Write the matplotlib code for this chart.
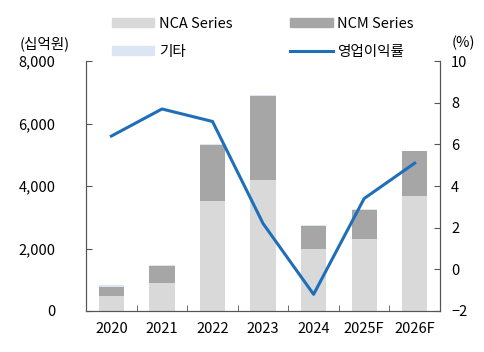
import numpy as np
import matplotlib
matplotlib.use("Agg")
import matplotlib.pyplot as plt
from matplotlib.patches import Patch
from matplotlib.lines import Line2D

plt.rcParams['font.family'] = ['Noto Sans CJK KR', 'DejaVu Sans']

years = ["2020", "2021", "2022", "2023", "2024", "2025F", "2026F"]
nca = [490, 885, 3510, 4200, 2000, 2310, 3680]
ncm = [280, 560, 1800, 2680, 730, 920, 1450]
etc = [70, 30, 50, 40, 30, 20, 0]
margin = [6.4, 7.7, 7.1, 2.2, -1.2, 3.4, 5.1]

c_nca = "#d9d9d9"
c_ncm = "#a6a6a6"
c_etc = "#dce6f2"
c_line = "#1f6fb8"

fig = plt.figure(figsize=(4.84, 3.52), dpi=100)
ax = fig.add_axes([0.178, 0.1165, 0.731, 0.71])
x = np.arange(len(years))
w = 0.5
ax.bar(x, nca, w, color=c_nca)
ax.bar(x, ncm, w, bottom=nca, color=c_ncm)
ax.bar(x, etc, w, bottom=np.array(nca) + np.array(ncm), color=c_etc)
ax.set_ylim(0, 8000)
ax.set_xlim(-0.5, len(years) - 0.5)
ax.set_yticks([0, 2000, 4000, 6000, 8000])
ax.set_yticklabels([f"{v:,}" for v in [0, 2000, 4000, 6000, 8000]])
ax.set_xticks(x)
ax.set_xticklabels(years)
ax.set_xticks(np.arange(0.5, len(years) - 0.5, 1), minor=True)
ax.tick_params(axis='x', which='major', length=0, pad=8, labelsize=10.5)
ax.tick_params(axis='x', which='minor', direction='in', length=4, color='#555555')
ax.tick_params(axis='y', direction='in', length=4, color='#555555', labelsize=10.5, pad=22)
ax.spines['top'].set_visible(False)
for s in ['left', 'bottom', 'right']:
    ax.spines[s].set_color('#555555')

ax2 = ax.twinx()
ax2.plot(x, margin, color=c_line, lw=2.2)
ax2.set_ylim(-2, 10)
ax2.set_yticks([-2, 0, 2, 4, 6, 8, 10])
ax2.tick_params(axis='y', direction='in', length=4, color='#555555', labelsize=10.5, pad=8)
ax2.spines['top'].set_visible(False)
for s in ['left', 'bottom', 'right']:
    ax2.spines[s].set_color('#555555')

fig.text(0.093, 0.877, "(십억원)", fontsize=10.5, ha='center', va='center')
fig.text(0.957, 0.877, "(%)", fontsize=10.5, ha='center', va='center')

handles = [Patch(color=c_nca), Patch(color=c_etc), Patch(color=c_ncm),
           Line2D([0], [0], color=c_line, lw=2.2)]
labels = ["NCA Series", "기타", "NCM Series", "영업이익률"]
fig.legend(handles, labels, ncol=2, loc='center', bbox_to_anchor=(0.543, 0.893),
           frameon=False, fontsize=10.5, handlelength=2.9, handleheight=0.5,
           columnspacing=4.0, labelspacing=0.95, handletextpad=0.3)

fig.savefig("out.png", dpi=100)
